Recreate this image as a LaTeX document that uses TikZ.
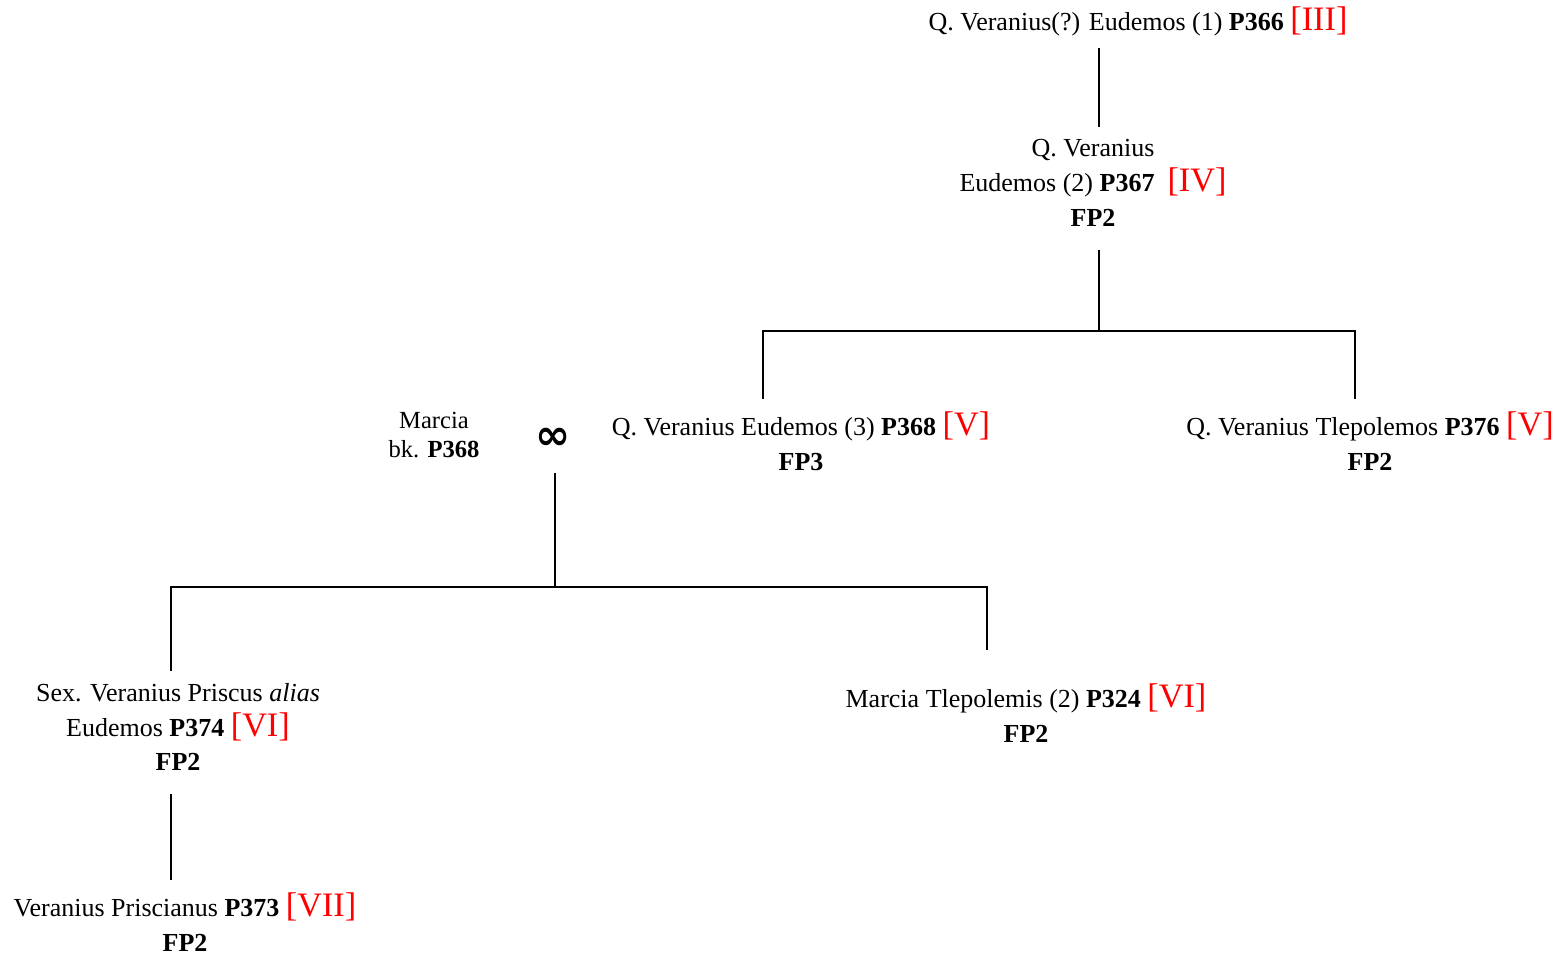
\documentclass[tikz,border=0pt]{standalone}
\usepackage{fontspec}
\setmainfont{Liberation Serif}
\newfontfamily\symfont{DejaVu Sans}
\usetikzlibrary{positioning}
\newcommand{\gen}[1]{{\color{red}\fontsize{19.5}{19.5}\selectfont[#1]}}

\begin{document}
\begin{tikzpicture}[x=0.02cm, y=-0.02cm,
    person/.style={align=center, font=\fontsize{14.8}{19.8}\selectfont, inner sep=7pt},
    spouse/.style={align=center, font=\fontsize{14}{17}\selectfont, inner sep=2pt},
    tie/.style={line width=1pt}
]
\useasboundingbox (0,0) rectangle (1561,958);

% Generation III and IV
\node[person] (eudI) at (1138,21) {Q. Veranius(?) Eudemos (1) \textbf{P366} \gen{III}};
\node[person] (eudII) at (1093,183) {Q. Veranius\\Eudemos (2) \textbf{P367}\ \ \gen{IV}\\\textbf{FP2}};

% Generation V
\node[person] (eudIII) at (801,441) {Q. Veranius Eudemos (3) \textbf{P368} \gen{V}\\\textbf{FP3}};
\node[person] (tlep) at (1370,441) {Q. Veranius Tlepolemos \textbf{P376} \gen{V}\\\textbf{FP2}};
\node[spouse] (marcia) at (434,435) {Marcia\\bk. \textbf{P368}};
\node[font=\symfont\bfseries\fontsize{24}{24}\selectfont, inner sep=6pt] (marr) at (553,439) {∞};

% Generation VI and VII
\node[person] (prisc) at (178,727) {Sex. Veranius Priscus \textit{alias}\\Eudemos \textbf{P374} \gen{VI}\\\textbf{FP2}};
\node[person] (mtlep) at (1026,713) {Marcia Tlepolemis (2) \textbf{P324} \gen{VI}\\\textbf{FP2}};
\node[person] (prian) at (185,922) {Veranius Priscianus \textbf{P373} \gen{VII}\\\textbf{FP2}};

% forks
\coordinate (forkA) at (1099,331);
\coordinate (forkAl) at (763,331);
\coordinate (forkAr) at (1355,331);
\coordinate (forkB) at (555,587);
\coordinate (forkBl) at (171,587);
\coordinate (forkBr) at (987,587);

% lines of descent
\draw[tie] (eudI.south -| forkA) -- (eudII.north -| forkA);
\draw[tie] ([yshift=-6pt]eudII.south -| forkA) -- (forkA);
\draw[tie] (eudIII.north -| forkAl) -- (forkAl) -- (forkAr) -- (tlep.north -| forkAr);
\draw[tie] ([yshift=-7pt]marr.south -| forkB) -- (forkB);
\draw[tie] (prisc.north -| forkBl) -- (forkBl) -- (forkBr) -- ([yshift=12pt]mtlep.north -| forkBr);
\draw[tie] ([yshift=-6pt]prisc.south -| forkBl) -- (prian.north -| forkBl);

\end{tikzpicture}
\end{document}
